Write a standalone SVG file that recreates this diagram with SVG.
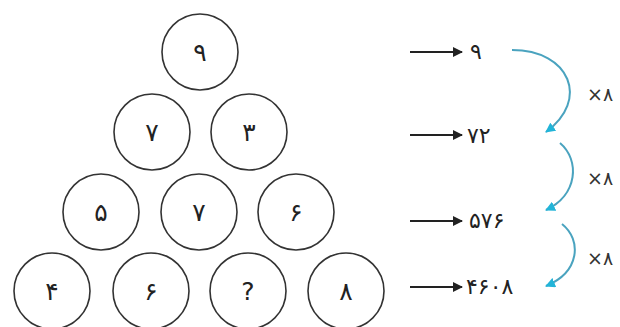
<svg xmlns="http://www.w3.org/2000/svg" width="620" height="327" viewBox="0 0 620 327">
<defs>
<style>
.c{fill:#fff;stroke:#333;stroke-width:1.6}
.t{font-family:"DejaVu Sans","Noto Sans",sans-serif;font-size:25px;fill:#222;text-anchor:middle;dominant-baseline:central}
.r{font-family:"DejaVu Sans","Noto Sans",sans-serif;font-size:22px;fill:#222;dominant-baseline:central}
.m{font-family:"DejaVu Sans","Noto Sans",sans-serif;font-size:19px;fill:#333;dominant-baseline:central}
.a{stroke:#222;stroke-width:2;fill:none;marker-end:url(#ah)}
.cv{stroke:#4aa3bf;stroke-width:2;fill:none;marker-end:url(#bh)}
</style>
<marker id="ah" viewBox="0 0 10 10" refX="9" refY="5" markerWidth="5.5" markerHeight="5" orient="auto" markerUnits="strokeWidth">
<path d="M0,0 L10,5 L0,10 z" fill="#222"/>
</marker>
<marker id="bh" viewBox="0 0 10 10" refX="9" refY="5" markerWidth="5" markerHeight="5" orient="auto" markerUnits="strokeWidth">
<path d="M0,0 L10,5 L0,10 z" fill="#22b4d8"/>
</marker>
</defs>
<rect width="620" height="327" fill="#fff"/>
<g id="n1"><circle class="c" cx="200" cy="52" r="38"/><text class="t" x="200" y="52">۹</text></g>
<g id="n2"><circle class="c" cx="152" cy="132" r="38"/><text class="t" x="152" y="132">۷</text></g>
<g id="n3"><circle class="c" cx="249" cy="132" r="38"/><text class="t" x="249" y="132">۳</text></g>
<g id="n4"><circle class="c" cx="101" cy="212" r="38"/><text class="t" x="101" y="212">۵</text></g>
<g id="n5"><circle class="c" cx="199" cy="212" r="38"/><text class="t" x="199" y="212">۷</text></g>
<g id="n6"><circle class="c" cx="296" cy="212" r="38"/><text class="t" x="296" y="212">۶</text></g>
<g id="n7"><circle class="c" cx="52" cy="291" r="38"/><text class="t" x="52" y="291">۴</text></g>
<g id="n8"><circle class="c" cx="151" cy="291" r="38"/><text class="t" x="151" y="291">۶</text></g>
<g id="n9"><circle class="c" cx="248" cy="291" r="38"/><text class="t" x="248" y="291">?</text></g>
<g id="n10"><circle class="c" cx="346" cy="291" r="38"/><text class="t" x="346" y="291">۸</text></g>
<g id="v1"><text class="r" x="470" y="51">۹</text></g>
<g id="v2"><text class="r" x="467" y="135">۷۲</text></g>
<g id="v3"><text class="r" x="469" y="220">۵۷۶</text></g>
<g id="v4"><text class="r" x="466" y="286">۴۶۰۸</text></g>
<g id="connectors">
<line class="a" x1="410" y1="52" x2="462" y2="52"/>
<line class="a" x1="410" y1="135" x2="462" y2="135"/>
<line class="a" x1="410" y1="221" x2="462" y2="221"/>
<line class="a" x1="410" y1="287" x2="462" y2="287"/>
<path class="cv" d="M512,50 C570,50 590,100 546,132"/>
<path class="cv" d="M560,143 C580,160 578,195 546,210"/>
<path class="cv" d="M562,224 C582,240 580,272 546,286"/>
</g>
<g id="labels">
<text class="m" x="587" y="94">×۸</text>
<text class="m" x="587" y="178">×۸</text>
<text class="m" x="587" y="258">×۸</text>
</g>
</svg>
